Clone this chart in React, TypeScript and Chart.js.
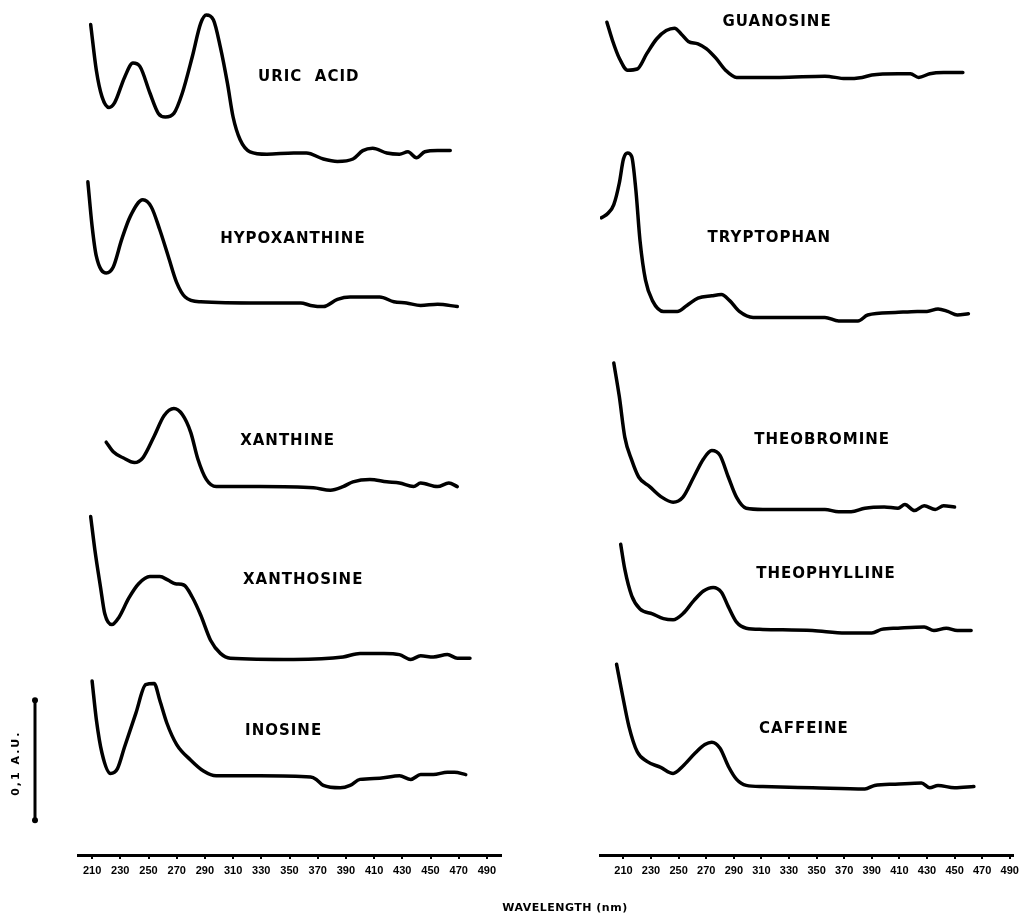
import { useEffect, useRef } from "react";
import { Chart, registerables } from "chart.js";

Chart.register(...registerables);

// ---- Spectra: wavelength (nm) and absorbance above each trace's own baseline (AU) ----
const URIC_ACID_NM = [209, 213, 217, 222, 226, 233, 239, 244, 251, 257, 262, 268, 274, 281, 287, 291, 296, 301, 306, 310, 315, 322, 334, 353, 362, 374, 384, 395, 402, 409, 419, 428, 434, 440, 446, 455, 464];
const URIC_ACID_AU = [0.107, 0.069, 0.047, 0.038, 0.042, 0.063, 0.075, 0.072, 0.05, 0.033, 0.03, 0.033, 0.05, 0.08, 0.108, 0.115, 0.111, 0.088, 0.058, 0.03, 0.011, 0.001, -0.001, 0, 0, -0.005, -0.007, -0.005, 0.002, 0.004, 0, -0.001, 0.001, -0.004, 0.001, 0.002, 0.002];

const HYPOXANTHINE_NM = [207, 210, 213, 220, 225, 231, 237, 246, 252, 258, 264, 270, 276, 287, 329, 358, 365, 374, 384, 393, 414, 424, 433, 443, 455, 469];
const HYPOXANTHINE_AU = [0.1, 0.063, 0.038, 0.024, 0.029, 0.052, 0.071, 0.085, 0.079, 0.06, 0.038, 0.016, 0.004, 0, -0.001, -0.001, -0.003, -0.004, 0.002, 0.004, 0.004, 0, -0.001, -0.003, -0.002, -0.004];

const XANTHINE_NM = [220, 225, 232, 240, 246, 254, 261, 268, 274, 280, 285, 291, 298, 329, 367, 379, 388, 395, 407, 419, 428, 438, 443, 455, 463, 469];
const XANTHINE_AU = [0.037, 0.029, 0.024, 0.02, 0.024, 0.042, 0.059, 0.065, 0.06, 0.045, 0.023, 0.006, 0, 0, -0.001, -0.003, 0, 0.004, 0.006, 0.004, 0.003, 0, 0.003, 0, 0.003, 0];

const XANTHOSINE_NM = [209, 212, 216, 219, 224, 229, 236, 243, 251, 258, 264, 269, 275, 281, 287, 294, 301, 308, 353, 388, 400, 417, 428, 436, 443, 452, 462, 469, 478];
const XANTHOSINE_AU = [0.118, 0.09, 0.059, 0.037, 0.028, 0.034, 0.05, 0.062, 0.068, 0.068, 0.065, 0.062, 0.061, 0.051, 0.036, 0.015, 0.004, 0, -0.001, 0.001, 0.004, 0.004, 0.003, -0.001, 0.002, 0.001, 0.003, 0, 0];

const INOSINE_NM = [210, 213, 217, 223, 228, 233, 241, 248, 254, 258, 263, 270, 280, 289, 298, 329, 365, 369, 374, 386, 393, 400, 414, 428, 436, 443, 452, 462, 467, 475];
const INOSINE_AU = [0.079, 0.047, 0.019, 0.002, 0.006, 0.024, 0.052, 0.076, 0.077, 0.063, 0.044, 0.026, 0.013, 0.004, 0, 0, -0.001, -0.003, -0.008, -0.01, -0.008, -0.003, -0.002, 0, -0.003, 0.001, 0.001, 0.003, 0.003, 0.001];

const GUANOSINE_NM = [198, 202, 207, 213, 220, 227, 234, 241, 247, 252, 257, 264, 270, 277, 284, 292, 323, 356, 371, 383, 390, 409, 418, 424, 432, 442, 456];
const GUANOSINE_AU = [0.046, 0.031, 0.016, 0.006, 0.007, 0.02, 0.032, 0.039, 0.041, 0.036, 0.03, 0.028, 0.024, 0.016, 0.006, 0, 0, 0.001, -0.001, 0, 0.002, 0.003, 0.003, 0, 0.003, 0.004, 0.004];

const TRYPTOPHAN_NM = [194, 199, 203, 207, 210, 213, 216, 219, 222, 226, 231, 239, 249, 256, 264, 274, 281, 287, 294, 304, 356, 366, 380, 387, 407, 423, 430, 438, 445, 452, 460];
const TRYPTOPHAN_AU = [0.082, 0.086, 0.093, 0.111, 0.131, 0.136, 0.133, 0.105, 0.063, 0.03, 0.013, 0.004, 0.004, 0.009, 0.015, 0.017, 0.018, 0.013, 0.004, -0.001, -0.001, -0.004, -0.004, 0.001, 0.003, 0.004, 0.004, 0.006, 0.004, 0.001, 0.002];

const THEOBROMINE_NM = [203, 207, 211, 216, 221, 229, 238, 246, 253, 261, 268, 274, 280, 286, 292, 299, 311, 356, 366, 375, 385, 399, 409, 414, 421, 428, 436, 442, 450];
const THEOBROMINE_AU = [0.122, 0.094, 0.06, 0.041, 0.027, 0.019, 0.01, 0.006, 0.01, 0.027, 0.042, 0.049, 0.045, 0.027, 0.01, 0.001, 0, 0, -0.002, -0.002, 0.001, 0.002, 0.001, 0.004, -0.001, 0.003, 0, 0.003, 0.002];

const THEOPHYLLINE_NM = [208, 211, 216, 222, 231, 239, 246, 253, 261, 268, 275, 281, 286, 292, 299, 311, 347, 371, 390, 397, 409, 428, 435, 444, 452, 462];
const THEOPHYLLINE_AU = [0.071, 0.05, 0.028, 0.017, 0.013, 0.009, 0.008, 0.013, 0.024, 0.032, 0.035, 0.031, 0.019, 0.006, 0.001, 0, -0.001, -0.003, -0.003, 0, 0.001, 0.002, -0.001, 0.001, -0.001, -0.001];

const CAFFEINE_NM = [205, 209, 214, 220, 227, 237, 246, 253, 262, 269, 274, 280, 286, 292, 299, 311, 347, 385, 392, 407, 426, 432, 438, 450, 464];
const CAFFEINE_AU = [0.102, 0.078, 0.05, 0.029, 0.021, 0.016, 0.011, 0.017, 0.028, 0.035, 0.037, 0.032, 0.017, 0.006, 0.001, 0, -0.001, -0.002, 0.001, 0.002, 0.003, -0.001, 0.001, -0.001, 0];

// ---- Axis ticks ----
const TICK_NM = [210, 230, 250, 270, 290, 310, 330, 350, 370, 390, 410, 430, 450, 470, 490];

// ---- Stack layout: baseline of each trace (AU on the stacked axis) and label anchor ----
type Trace = {
  name: string;
  nm: number[];
  au: number[];
  offset: number;
  labelNm: number;
  labelAu: number;
};

const LEFT_TRACES: Trace[] = [
  { name: "URIC  ACID", nm: URIC_ACID_NM, au: URIC_ACID_AU, offset: 0.585, labelNm: 327.7, labelAu: 0.063 },
  { name: "HYPOXANTHINE", nm: HYPOXANTHINE_NM, au: HYPOXANTHINE_AU, offset: 0.461, labelNm: 300.8, labelAu: 0.052 },
  { name: "XANTHINE", nm: XANTHINE_NM, au: XANTHINE_AU, offset: 0.307, labelNm: 315, labelAu: 0.0375 },
  { name: "XANTHOSINE", nm: XANTHOSINE_NM, au: XANTHOSINE_AU, offset: 0.164, labelNm: 317, labelAu: 0.065 },
  { name: "INOSINE", nm: INOSINE_NM, au: INOSINE_AU, offset: 0.066, labelNm: 318.5, labelAu: 0.037 },
];

const RIGHT_TRACES: Trace[] = [
  { name: "GUANOSINE", nm: GUANOSINE_NM, au: GUANOSINE_AU, offset: 0.648, labelNm: 281.8, labelAu: 0.046 },
  { name: "TRYPTOPHAN", nm: TRYPTOPHAN_NM, au: TRYPTOPHAN_AU, offset: 0.449, labelNm: 271, labelAu: 0.065 },
  { name: "THEOBROMINE", nm: THEOBROMINE_NM, au: THEOBROMINE_AU, offset: 0.288, labelNm: 304.8, labelAu: 0.0575 },
  { name: "THEOPHYLLINE", nm: THEOPHYLLINE_NM, au: THEOPHYLLINE_AU, offset: 0.188, labelNm: 306.2, labelAu: 0.046 },
  { name: "CAFFEINE", nm: CAFFEINE_NM, au: CAFFEINE_AU, offset: 0.057, labelNm: 308.3, labelAu: 0.0475 },
];

const Y_MAX = 0.7125;
const SCALE_BAR_FROM = 0.029;
const SCALE_BAR_AU = 0.1;
const SCALE_BAR_TEXT = "0,1 A.U.";
const X_TITLE = "WAVELENGTH (nm)";

const W = 1024;
const H = 915;

function annotatePlugin(traces: Trace[], withExtras: boolean) {
  return {
    id: "annotate",
    afterDatasetsDraw(chart: any) {
      const { ctx, chartArea } = chart;
      const x = chart.scales.x;
      const y = chart.scales.y;
      ctx.save();
      ctx.fillStyle = "#000";
      ctx.strokeStyle = "#000";
      ctx.textBaseline = "middle";
      ctx.textAlign = "left";
      ctx.font = 'bold 15px "DejaVu Sans"';
      (ctx as any).letterSpacing = "1px";
      traces.forEach((t) => {
        ctx.fillText(t.name, x.getPixelForValue(t.labelNm), y.getPixelForValue(t.offset + t.labelAu));
      });

      if (withExtras) {
        // vertical 0.1 AU scale bar
        const bx = chartArea.left - 43;
        const y0 = y.getPixelForValue(SCALE_BAR_FROM);
        const y1 = y.getPixelForValue(SCALE_BAR_FROM + SCALE_BAR_AU);
        ctx.lineWidth = 3;
        ctx.beginPath();
        ctx.moveTo(bx, y0);
        ctx.lineTo(bx, y1);
        ctx.stroke();
        [y0, y1].forEach((py) => {
          ctx.beginPath();
          ctx.arc(bx, py, 3, 0, Math.PI * 2);
          ctx.fill();
        });
        ctx.save();
        ctx.translate(bx - 19, (y0 + y1) / 2 + 3);
        ctx.rotate(-Math.PI / 2);
        ctx.textAlign = "center";
        ctx.font = 'bold 11px "DejaVu Sans"';
        (ctx as any).letterSpacing = "2px";
        ctx.fillText(SCALE_BAR_TEXT, 0, 0);
        ctx.restore();

        // shared axis title
        ctx.textAlign = "center";
        ctx.font = 'bold 11px "DejaVu Sans"';
        (ctx as any).letterSpacing = "0.5px";
        ctx.fillText(X_TITLE, 565, 908);
      }
      ctx.restore();
    },
  };
}

function makeConfig(traces: Trace[], xMin: number, xMax: number, padLeft: number, padRight: number, withExtras: boolean): any {
  return {
    type: "line",
    data: {
      datasets: traces.map((t) => ({
        label: t.name,
        data: t.nm.map((nm, i) => ({ x: nm, y: t.offset + t.au[i] })),
        borderColor: "#000",
        borderWidth: 3.5,
        pointRadius: 0,
        fill: false,
        cubicInterpolationMode: "monotone",
        borderCapStyle: "round",
        borderJoinStyle: "round",
      })),
    },
    options: {
      animation: false,
      responsive: false,
      events: [],
      layout: { padding: { left: padLeft, right: padRight, top: 0, bottom: 0 } },
      plugins: { legend: { display: false }, tooltip: { enabled: false }, title: { display: false } },
      scales: {
        x: {
          type: "linear",
          min: xMin,
          max: xMax,
          afterBuildTicks: (s: any) => {
            s.ticks = TICK_NM.map((v) => ({ value: v }));
          },
          afterFit: (s: any) => {
            s.height = H - 855;
          },
          ticks: {
            autoSkip: false,
            maxRotation: 0,
            padding: 5,
            color: "#000",
            font: { family: '"Liberation Sans"', size: 11, weight: "bold" },
            callback: (v: any) => String(v),
          },
          grid: { drawOnChartArea: false, tickLength: 4, color: "#000", lineWidth: 2 },
          border: { color: "#000", width: 3 },
        },
        y: { display: false, min: 0, max: Y_MAX },
      },
    },
    plugins: [annotatePlugin(traces, withExtras)],
  };
}

export default function App() {
  const leftRef = useRef<HTMLCanvasElement | null>(null);
  const rightRef = useRef<HTMLCanvasElement | null>(null);

  useEffect(() => {
    if (!leftRef.current || !rightRef.current) return;
    const left = new Chart(leftRef.current, makeConfig(LEFT_TRACES, 200, 500, 78, W - 501, true));
    const right = new Chart(rightRef.current, makeConfig(RIGHT_TRACES, 193, 492, 600, W - 1015, false));
    return () => {
      left.destroy();
      right.destroy();
    };
  }, []);

  const canvasStyle: any = { position: "absolute", left: 0, top: 0, width: W, height: H };
  return (
    <div style={{ position: "absolute", left: 0, top: 0, width: W, height: H, background: "#fff" }}>
      <canvas ref={leftRef} width={W} height={H} style={canvasStyle} />
      <canvas ref={rightRef} width={W} height={H} style={canvasStyle} />
    </div>
  );
}
